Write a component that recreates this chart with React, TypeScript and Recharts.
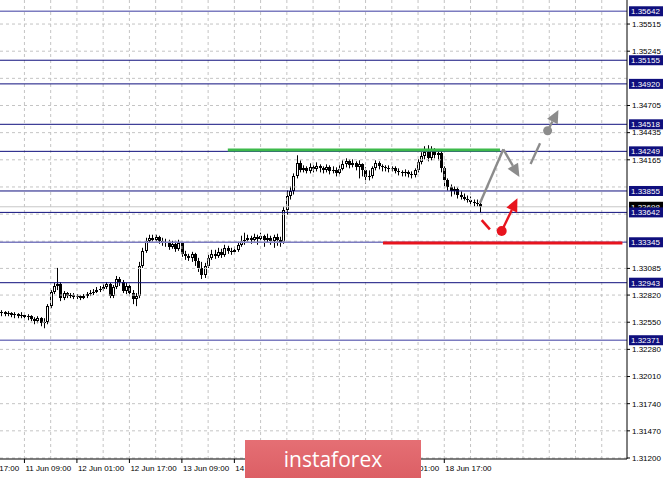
import React from "react";
import {
  ComposedChart,
  Bar,
  XAxis,
  YAxis,
  ReferenceLine,
  ReferenceDot,
} from "recharts";

// GBPUSD H1, 11 Jun - 19 Jun
const opens = [
  1.3264, 1.3265, 1.3263, 1.3264, 1.3262, 1.3263, 1.3261, 1.3262, 1.326, 1.3261,
  1.3258, 1.3256, 1.3259, 1.3254, 1.3255, 1.3271, 1.3285, 1.3291, 1.3293, 1.3279,
  1.3284, 1.3281, 1.3282, 1.328, 1.3281, 1.3279, 1.3281, 1.3283, 1.3284, 1.3285,
  1.3287, 1.3288, 1.329, 1.3293, 1.3281, 1.329, 1.3298, 1.3295, 1.3286, 1.3291,
  1.3284, 1.3278, 1.3281, 1.3311, 1.3326, 1.3336, 1.3339, 1.3337, 1.334, 1.3336,
  1.3334, 1.3335, 1.333, 1.3333, 1.3328, 1.3334, 1.3323, 1.3321, 1.3319, 1.3323,
  1.3316, 1.3309, 1.3302, 1.3311, 1.3319, 1.3323, 1.3321, 1.3325, 1.3322, 1.3329,
  1.3326, 1.3325, 1.3327, 1.3332, 1.3336, 1.3337, 1.3339, 1.3337, 1.334, 1.3338,
  1.3341, 1.3337, 1.3339, 1.3336, 1.334, 1.3337, 1.3335, 1.3367, 1.3381, 1.3385,
  1.34, 1.3413, 1.3406, 1.3408, 1.3405, 1.3409, 1.3407, 1.341, 1.3408, 1.3406,
  1.3409, 1.3405, 1.3406, 1.3403, 1.3407, 1.3412, 1.3415, 1.3411, 1.3413, 1.3409,
  1.3412, 1.3406, 1.3399, 1.34, 1.3408, 1.3413, 1.341, 1.3409, 1.3408, 1.3407,
  1.3408, 1.3405, 1.3404, 1.3403, 1.3404, 1.3402, 1.3401, 1.3406, 1.3414, 1.342,
  1.3424, 1.3418, 1.3426, 1.3421, 1.3423, 1.3408, 1.3396, 1.3389, 1.3385, 1.3387,
  1.3382, 1.338, 1.3378, 1.3377, 1.3375, 1.3374, 1.3373,
];
const highs = [
  1.3267, 1.3266, 1.3266, 1.3265, 1.3265, 1.3264, 1.3265, 1.3263, 1.3263, 1.3262,
  1.326, 1.3261, 1.326, 1.3259, 1.3273, 1.3287, 1.3294, 1.3309, 1.3295, 1.3286,
  1.3285, 1.3284, 1.3284, 1.3283, 1.3282, 1.3283, 1.3285, 1.3287, 1.3288, 1.329,
  1.3291, 1.3293, 1.3295, 1.3294, 1.3292, 1.3301, 1.33, 1.3297, 1.3294, 1.3293,
  1.3287, 1.3284, 1.3315, 1.3329, 1.3339, 1.3342, 1.3342, 1.3342, 1.3341, 1.3339,
  1.3338, 1.3337, 1.3336, 1.3336, 1.3337, 1.3335, 1.3326, 1.3323, 1.3325, 1.3324,
  1.3319, 1.3315, 1.3314, 1.3322, 1.3327, 1.3327, 1.3329, 1.3328, 1.3332, 1.3331,
  1.3329, 1.333, 1.3335, 1.3341, 1.3344, 1.3342, 1.3341, 1.3343, 1.3342, 1.3344,
  1.3342, 1.3343, 1.3341, 1.3342, 1.3343, 1.334, 1.337, 1.3386, 1.339, 1.3403,
  1.3421, 1.3416, 1.3411, 1.341, 1.3413, 1.3411, 1.3414, 1.3412, 1.341, 1.3412,
  1.3411, 1.341, 1.3409, 1.3411, 1.3416, 1.3418, 1.3417, 1.3417, 1.3415, 1.3416,
  1.3413, 1.3409, 1.3406, 1.341, 1.3416, 1.3415, 1.3412, 1.3411, 1.3411, 1.341,
  1.341, 1.3408, 1.3406, 1.3407, 1.3406, 1.3405, 1.3408, 1.3417, 1.3424, 1.343,
  1.3431, 1.343, 1.3428, 1.3425, 1.3426, 1.341, 1.3398, 1.3392, 1.339, 1.3389,
  1.3385, 1.3383, 1.3381, 1.338, 1.3377, 1.3377, 1.3375,
];
const lows = [
  1.3261, 1.3261, 1.3261, 1.326, 1.3259, 1.3259, 1.3259, 1.3258, 1.3257, 1.3256,
  1.3253, 1.3254, 1.3251, 1.3249, 1.3253, 1.3269, 1.3283, 1.3287, 1.3276, 1.3277,
  1.3279, 1.3279, 1.3278, 1.3278, 1.3277, 1.3278, 1.3279, 1.3281, 1.3282, 1.3284,
  1.3285, 1.3286, 1.3288, 1.3279, 1.3279, 1.3288, 1.3291, 1.3284, 1.3283, 1.3281,
  1.3273, 1.3271, 1.3279, 1.3309, 1.3324, 1.3334, 1.3334, 1.3335, 1.3333, 1.3331,
  1.333, 1.3327, 1.3328, 1.3325, 1.3326, 1.332, 1.3317, 1.3316, 1.3315, 1.3311,
  1.3305, 1.3298, 1.3299, 1.3309, 1.3317, 1.3318, 1.3319, 1.3319, 1.332, 1.3323,
  1.3322, 1.3323, 1.3325, 1.333, 1.3332, 1.3334, 1.3333, 1.3335, 1.3332, 1.3336,
  1.333, 1.3334, 1.3332, 1.3329, 1.3331, 1.333, 1.3333, 1.3362, 1.3377, 1.3382,
  1.3398, 1.3404, 1.3404, 1.3403, 1.3403, 1.3404, 1.3405, 1.3404, 1.3403, 1.3404,
  1.3402, 1.3403, 1.34, 1.3401, 1.3406, 1.3409, 1.3408, 1.3409, 1.3406, 1.3398,
  1.34, 1.3393, 1.3396, 1.3398, 1.3406, 1.3407, 1.3405, 1.3405, 1.3404, 1.3405,
  1.3403, 1.3401, 1.34, 1.34, 1.3399, 1.3398, 1.3399, 1.3404, 1.3412, 1.3417,
  1.3415, 1.3416, 1.3418, 1.3416, 1.3404, 1.339, 1.3386, 1.338, 1.3382, 1.3378,
  1.3377, 1.3376, 1.3374, 1.3372, 1.337, 1.337, 1.3364,
];
const closes = [
  1.3265, 1.3263, 1.3264, 1.3262, 1.3263, 1.3261, 1.3262, 1.326, 1.3261, 1.3258,
  1.3256, 1.3259, 1.3254, 1.3255, 1.3271, 1.3285, 1.3291, 1.3293, 1.3279, 1.3284,
  1.3281, 1.3282, 1.328, 1.3281, 1.3279, 1.3281, 1.3283, 1.3284, 1.3285, 1.3287,
  1.3288, 1.329, 1.3293, 1.3281, 1.329, 1.3298, 1.3295, 1.3286, 1.3291, 1.3284,
  1.3278, 1.3281, 1.3311, 1.3326, 1.3336, 1.3339, 1.3337, 1.334, 1.3336, 1.3334,
  1.3335, 1.333, 1.3333, 1.3328, 1.3334, 1.3323, 1.3321, 1.3319, 1.3323, 1.3316,
  1.3309, 1.3302, 1.3311, 1.3319, 1.3323, 1.3321, 1.3325, 1.3322, 1.3329, 1.3326,
  1.3325, 1.3327, 1.3332, 1.3336, 1.3337, 1.3339, 1.3337, 1.334, 1.3338, 1.3341,
  1.3337, 1.3339, 1.3336, 1.334, 1.3337, 1.3335, 1.3367, 1.3381, 1.3385, 1.34,
  1.3413, 1.3406, 1.3408, 1.3405, 1.3409, 1.3407, 1.341, 1.3408, 1.3406, 1.3409,
  1.3405, 1.3406, 1.3403, 1.3407, 1.3412, 1.3415, 1.3411, 1.3413, 1.3409, 1.3412,
  1.3406, 1.3399, 1.34, 1.3408, 1.3413, 1.341, 1.3409, 1.3408, 1.3407, 1.3408,
  1.3405, 1.3404, 1.3403, 1.3404, 1.3402, 1.3401, 1.3406, 1.3414, 1.342, 1.3424,
  1.3418, 1.3426, 1.3421, 1.3423, 1.3408, 1.3396, 1.3389, 1.3385, 1.3387, 1.3382,
  1.338, 1.3378, 1.3377, 1.3375, 1.3374, 1.3373, 1.337,
];

// bar index -> time label on the bottom scale (the ones under the logo are left out)
const timeTicks = [-9, 7, 23, 39, 55, 71, 119, 135];
const timeLabels = [
  "10 Jun 17:00",
  "11 Jun 09:00",
  "12 Jun 01:00",
  "12 Jun 17:00",
  "13 Jun 09:00",
  "14 Jun 01:00",
  "18 Jun 01:00",
  "18 Jun 17:00",
];
const gridBars = [
  7, 15, 23, 31, 39, 47, 55, 63, 71, 79, 87, 95, 103, 111, 119, 127, 135, 143,
  151, 159, 167, 175, 183,
];

const priceGrid = [
  1.312, 1.3147, 1.3174, 1.3201, 1.3228, 1.3255, 1.3282, 1.33085, 1.33355,
  1.33625, 1.33895, 1.34165, 1.34435, 1.34705, 1.34975, 1.35245, 1.35515,
];
const priceTicks = [
  1.312, 1.3147, 1.3174, 1.3201, 1.3228, 1.3255, 1.3282, 1.33085, 1.34165,
  1.34435, 1.34705, 1.35245, 1.35515,
];

// support / resistance levels
const levels = [
  1.35642, 1.35155, 1.3492, 1.34518, 1.34249, 1.33855, 1.33642, 1.33345,
  1.32943, 1.32371,
];
const faintLevels = [1.35642, 1.33345, 1.32371];
const bid = 1.33698;

// forecast drawings: [bar, price]
const greenLevel = { from: 69, to: 152, price: 1.34262 };
const redLevel = { from: 116.3, to: 189.3, price: 1.33337 };
const greyUp = [
  [145.9, 1.33735],
  [153.0, 1.34269],
];
const greyDown = [
  [153.0, 1.34269],
  [157.9, 1.33994],
];
const greyDash = [
  [161.3, 1.34123],
  [164.2, 1.34329],
];
const greyDot = [166.5, 1.34454];
const greyTip = [169.8, 1.3466];
const redDash = [
  [146.4, 1.33566],
  [148.9, 1.33474],
];
const redDot = [152.5, 1.33457];
const redTip = [157.3, 1.33782];

const data = closes.map((c, i) => ({
  i,
  o: opens[i],
  h: highs[i],
  l: lows[i],
  c,
  range: [lows[i], highs[i]],
}));

const NAVY = "#0f0f7d";
const GRID = "#c4c4c4";
const GREY = "#8c8c8c";
const RED = "#e8141e";

function Candle(props: any) {
  const { x, y, width, height, payload } = props;
  if (!payload || height == null) return null;
  const { o, h, l, c } = payload;
  const k = height / (h - l);
  const px = Math.round(x + width / 2);
  const top = Math.round(y + (h - Math.max(o, c)) * k);
  const bot = Math.round(y + (h - Math.min(o, c)) * k);
  const bh = Math.max(1, bot - top);
  const up = c > o;
  return (
    <g>
      <rect x={px} y={y} width={1} height={height} fill="#000" />
      <rect x={px - 1} y={top} width={3} height={bh} fill="#000" />
      {up && bh > 2 && (
        <rect x={px} y={top + 1} width={1} height={bh - 2} fill="#fff" />
      )}
    </g>
  );
}

function LevelTag({ viewBox, value, bg }: any) {
  if (!viewBox) return null;
  const x = viewBox.x + viewBox.width + 2;
  const y = viewBox.y;
  return (
    <g>
      <rect x={x} y={y - 5} width={34} height={10} fill={bg} />
      <text x={x + 2} y={y + 3} fontSize={8} fill="#fff">
        {value.toFixed(5)}
      </text>
    </g>
  );
}

function TimeTick({ x, y, payload }: any) {
  const idx = timeTicks.indexOf(payload.value);
  return (
    <text x={x + 1} y={y + 6} fontSize={8} fill="#000">
      {timeLabels[idx]}
    </text>
  );
}

function arrow(color: string, head: number, half: number) {
  return (p: any) => {
    const { x1, y1, x2, y2 } = p;
    const a = Math.atan2(y2 - y1, x2 - x1);
    const bx = x2 - head * Math.cos(a);
    const by = y2 - head * Math.sin(a);
    const nx = -Math.sin(a) * half;
    const ny = Math.cos(a) * half;
    return (
      <g>
        <line x1={x1} y1={y1} x2={bx} y2={by} stroke={color} strokeWidth={2.4} />
        <polygon
          points={`${x2},${y2} ${bx + nx},${by + ny} ${bx - nx},${by - ny}`}
          fill={color}
        />
      </g>
    );
  };
}

const seg = (pts: number[][]) => pts.map(([x, y]) => ({ x, y }));

export default function App() {
  return (
    <div
      style={{
        position: "relative",
        width: 665,
        height: 478,
        background: "#fff",
        fontFamily: "'Liberation Sans', Arial, sans-serif",
      }}
    >
      <style>{`body{margin:0}`}</style>
      <ComposedChart
        width={665}
        height={478}
        data={data}
        margin={{ top: 0, right: 0, bottom: 0, left: 0 }}
      >
        <XAxis
          dataKey="i"
          type="number"
          domain={[-0.45, 190.7]}
          allowDataOverflow
          ticks={timeTicks}
          interval={0}
          tick={<TimeTick />}
          tickSize={4}
          height={19}
          axisLine={{ stroke: "#000" }}
          tickLine={{ stroke: "#000" }}
        />
        <YAxis
          orientation="right"
          type="number"
          domain={[1.3119, 1.35754]}
          allowDataOverflow
          ticks={priceTicks}
          interval={0}
          width={38}
          tickSize={3}
          tickFormatter={(v: number) => v.toFixed(5)}
          tick={{ fontSize: 8, fill: "#000" }}
          axisLine={{ stroke: "#000" }}
          tickLine={{ stroke: "#000" }}
        />
        {priceGrid.map((v) => (
          <ReferenceLine
            key={"gy" + v}
            y={v}
            stroke={GRID}
            strokeDasharray="3 3"
          />
        ))}
        {gridBars.map((b) => (
          <ReferenceLine
            key={"gx" + b}
            x={b}
            stroke={GRID}
            strokeDasharray="3 3"
          />
        ))}
        <ReferenceLine
          y={bid}
          stroke="#c8c8c8"
          label={(p: any) => <LevelTag {...p} value={bid} bg="#000" />}
        />
        <Bar
          dataKey="range"
          barSize={3}
          shape={<Candle />}
          isAnimationActive={false}
        />
        {levels.map((v) => {
          const faint = faintLevels.includes(v);
          return (
            <ReferenceLine
              key={"lv" + v}
              y={v}
              stroke={faint ? "#7c7cc0" : NAVY}
              strokeWidth={faint ? 1.6 : 1}
              label={(p: any) => <LevelTag {...p} value={v} bg={NAVY} />}
            />
          );
        })}
        <ReferenceLine
          segment={[
            { x: greenLevel.from, y: greenLevel.price },
            { x: greenLevel.to, y: greenLevel.price },
          ]}
          stroke="#3dba4b"
          strokeWidth={3}
        />
        <ReferenceLine
          segment={[
            { x: redLevel.from, y: redLevel.price },
            { x: redLevel.to, y: redLevel.price },
          ]}
          stroke={RED}
          strokeWidth={3}
        />
        <ReferenceLine segment={seg(greyUp)} stroke={GREY} strokeWidth={2.4} />
        <ReferenceLine segment={seg(greyDown)} shape={arrow(GREY, 13, 6)} />
        <ReferenceLine segment={seg(greyDash)} stroke={GREY} strokeWidth={2.4} />
        <ReferenceDot
          x={greyDot[0]}
          y={greyDot[1]}
          r={4.5}
          fill={GREY}
          stroke="none"
        />
        <ReferenceLine
          segment={seg([greyDot, greyTip])}
          shape={arrow(GREY, 13, 6)}
        />
        <ReferenceLine segment={seg(redDash)} stroke={RED} strokeWidth={2.6} />
        <ReferenceDot
          x={redDot[0]}
          y={redDot[1]}
          r={5}
          fill={RED}
          stroke="none"
        />
        <ReferenceLine
          segment={seg([redDot, redTip])}
          shape={arrow(RED, 13, 6)}
        />
      </ComposedChart>
      <div
        style={{
          position: "absolute",
          left: 245,
          top: 440,
          width: 176,
          height: 38,
          background: "linear-gradient(#e56f74, #dc5f65)",
          color: "#fff",
          fontFamily: "'Open Sans', 'Noto Sans', sans-serif",
          fontSize: 21,
          lineHeight: "38px",
          textAlign: "center",
        }}
      >
        instaforex
      </div>
    </div>
  );
}
